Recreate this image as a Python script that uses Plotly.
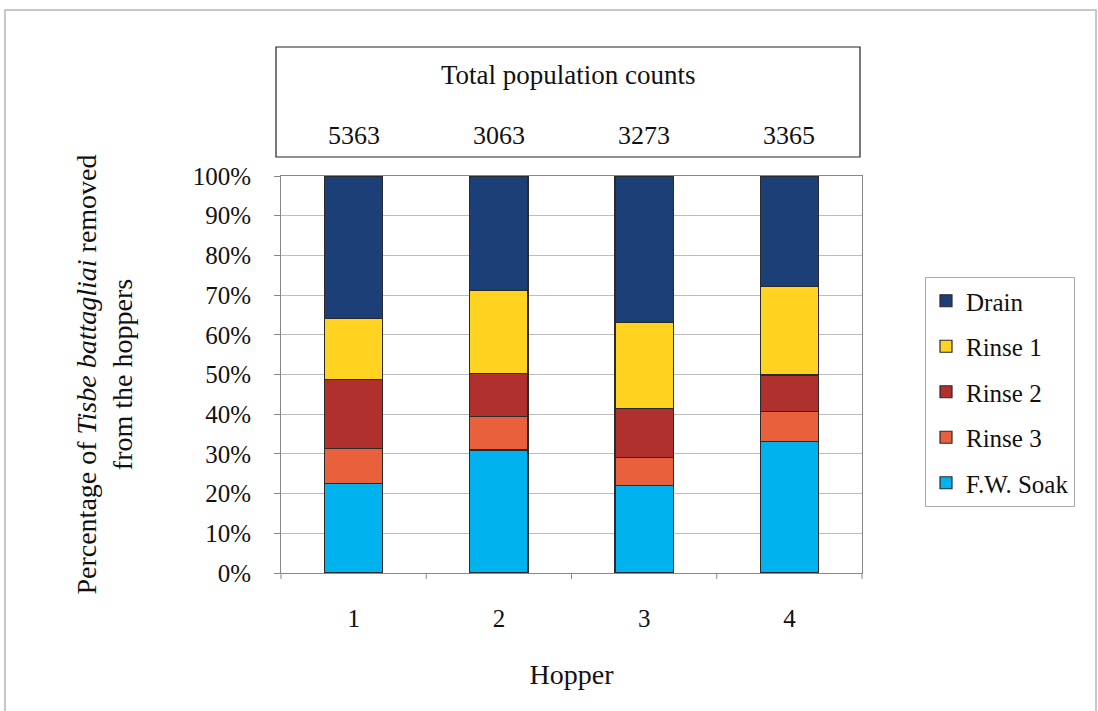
import plotly.graph_objects as go

hoppers = ["1", "2", "3", "4"]
totals = ["5363", "3063", "3273", "3365"]
series_names = ["F.W. Soak", "Rinse 3", "Rinse 2", "Rinse 1", "Drain"]
fw_soak = [22.6, 31.0, 22.1, 33.1]
rinse3 = [8.8, 8.4, 6.9, 7.6]
rinse2 = [17.3, 10.9, 12.5, 9.2]
rinse1 = [15.4, 20.8, 21.6, 22.3]
drain = [35.9, 28.9, 36.9, 27.8]
colors = ["#00B2EE", "#E8613C", "#B0302E", "#FFD320", "#1D3F78"]

FONT = "Liberation Serif"
FS = 25
W, H = 1098, 711
L, R, T, B = 281, 236, 176, 138
pw, ph = W - L - R, H - T - B

def px(x):
    return (x - L) / pw

def py(y):
    return (H - B - y) / ph

fig = go.Figure()
n = len(series_names)
for i, (name, vals) in enumerate(zip(series_names, [fw_soak, rinse3, rinse2, rinse1, drain])):
    fig.add_trace(go.Bar(
        x=hoppers, y=vals, name=name, marker_color=colors[i],
        marker_line=dict(color="#2a2a2a", width=1.2), width=0.4,
        legendgroup=name, legendrank=100 + (n - i),
    ))

fig.update_layout(
    barmode="stack", width=W, height=H,
    margin=dict(l=L, r=R, t=T, b=B),
    paper_bgcolor="white", plot_bgcolor="white",
    font=dict(family=FONT, size=FS, color="#111"),
    showlegend=True,
    legend=dict(
        x=px(925), y=py(277), xanchor="left", yanchor="top",
        bordercolor="#aaaaaa", borderwidth=1, traceorder="grouped",
        tracegroupgap=10, font=dict(size=FS, family=FONT),
        itemwidth=30,
    ),
)
fig.update_xaxes(
    type="category", range=[-0.5, len(hoppers) - 0.5],
    title=dict(text="Hopper", font=dict(size=28), standoff=33),
    showline=True, linecolor="#888", mirror=True, ticks="", showgrid=False,
    tickfont=dict(size=FS), ticklabelstandoff=23,
)
fig.update_yaxes(
    range=[0, 100], dtick=10, ticksuffix="%", showgrid=True, gridcolor="#bdbdbd",
    showline=True, linecolor="#888", mirror=True, ticks="outside", ticklen=6, tickcolor="#888",
    tickfont=dict(size=FS), ticklabelstandoff=18,
    title=dict(text="Percentage of <i>Tisbe battagliai</i> removed<br>from the hoppers",
               font=dict(size=28), standoff=51),
)

# category divider ticks on the x axis
for k in range(5):
    fig.add_shape(type="line", xref="paper", yref="paper", x0=k / 4, x1=k / 4, y0=0, y1=-0.015,
                  line=dict(color="#888", width=1))

# outer frame
fig.add_shape(type="rect", xref="paper", yref="paper", x0=px(5), x1=px(1096), y0=py(10), y1=py(712),
              line=dict(color="#b5b5b5", width=1.5))
# top box
fig.add_shape(type="rect", xref="paper", yref="paper", x0=px(276), x1=px(860), y0=py(47), y1=py(157),
              line=dict(color="#222", width=1.2))
fig.add_annotation(text="Total population counts", xref="paper", yref="paper", x=px(568), y=py(75),
                   yanchor="middle", showarrow=False, font=dict(size=27))
for i, t in enumerate(totals):
    fig.add_annotation(text=t, xref="x", yref="paper", x=i, y=py(135), yanchor="middle",
                       showarrow=False, font=dict(size=26))

fig.write_html("out.html", post_script="document.body.style.margin='0';",
               config={"displayModeBar": False})
